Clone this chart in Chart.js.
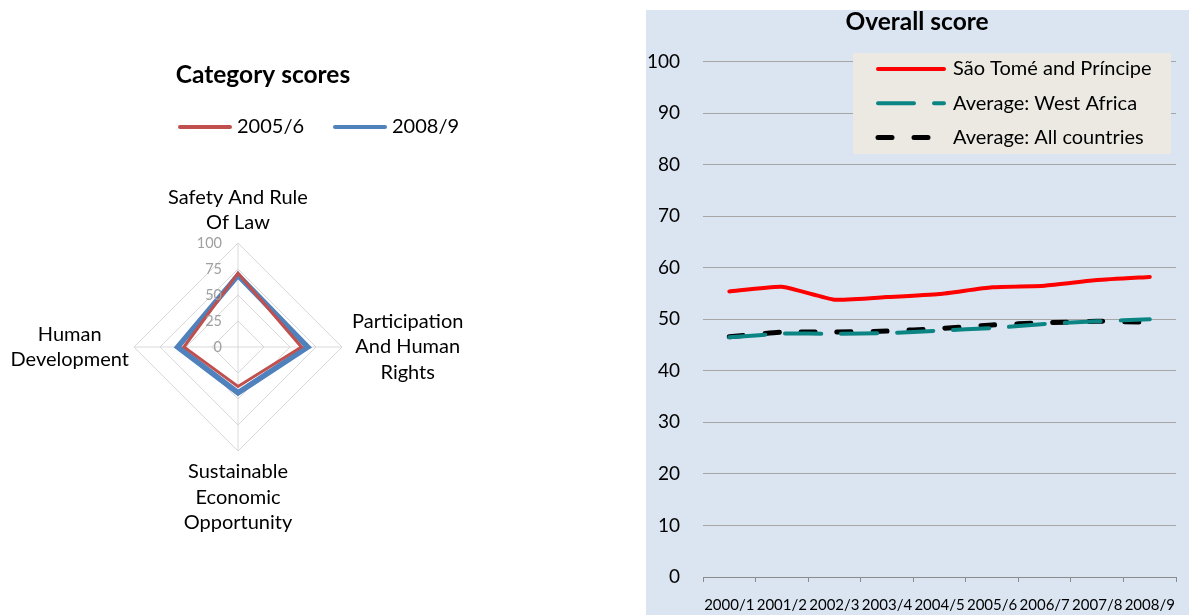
<!DOCTYPE html>
<html>
<head>
<meta charset="utf-8">
<script src="https://cdn.jsdelivr.net/npm/chart.js@4.4.0/dist/chart.umd.min.js"></script>
<style>
  body { margin: 0; background: #fff; width: 1189px; height: 615px; overflow: hidden; position: relative; }
  #leftBox { position: absolute; left: 0; top: 0; width: 480px; height: 615px; }
  #rightBox { position: absolute; left: 646px; top: 10px; width: 543px; height: 605px; background: #dbe5f1; }
</style>
</head>
<body>
<div id="leftBox"><canvas id="radarChart"></canvas></div>
<div id="rightBox"><canvas id="lineChart"></canvas></div>
<script>
// ---------- data ----------
const radarLabels = [['Safety And Rule', 'Of Law'], ['Participation', 'And Human', 'Rights'], ['Sustainable', 'Economic', 'Opportunity'], ['Human', 'Development']];
const radarSeries = ['2005/6', '2008/9'];
const scores2005 = [71, 61, 38, 52];
const scores2008 = [69, 67, 44, 58];
const radarTicks = [0, 25, 50, 75, 100];

const years = ['2000/1', '2001/2', '2002/3', '2003/4', '2004/5', '2005/6', '2006/7', '2007/8', '2008/9'];
const saoTome = [55.4, 56.3, 53.8, 54.3, 54.9, 56.2, 56.5, 57.6, 58.2];
const westAfrica = [46.5, 47.2, 47.2, 47.3, 47.8, 48.3, 49.1, 49.6, 50.0];
const allCountries = [46.6, 47.5, 47.5, 47.7, 48.2, 48.9, 49.3, 49.6, 49.4];
const yTicks = [0, 10, 20, 30, 40, 50, 60, 70, 80, 90, 100];

const FONT = 'Lato, Calibri, "Noto Sans", sans-serif';

// ===================== Category scores (radar) =====================
// title + legend drawn by hand so they can sit where Excel put them
const radarHeader = {
  id: 'radarHeader',
  afterDraw(chart) {
    const ctx = chart.ctx;
    ctx.save();
    ctx.fillStyle = '#000';
    ctx.textBaseline = 'middle';
    ctx.textAlign = 'center';
    ctx.font = 'bold 24.5px ' + FONT;
    ctx.fillText('Category scores', 263, 75);

    ctx.textAlign = 'left';
    ctx.font = '20px ' + FONT;
    const slots = [178, 333];
    chart.data.datasets.forEach((ds, i) => {
      const x = slots[i];
      ctx.strokeStyle = ds.borderColor;
      ctx.lineWidth = 4;
      ctx.lineCap = 'round';
      ctx.beginPath();
      ctx.moveTo(x + 2, 127);
      ctx.lineTo(x + 52, 127);
      ctx.stroke();
      ctx.fillText(ds.label, x + 59, 127);
    });
    ctx.restore();
  }
};

// tick labels left of the vertical axis + centred multi-line category labels, like Excel
const radarText = {
  id: 'radarText',
  afterDraw(chart) {
    const r = chart.scales.r;
    const ctx = chart.ctx;
    ctx.save();
    ctx.fillStyle = '#a0a0a0';
    ctx.font = '14.5px ' + FONT;
    ctx.textAlign = 'right';
    ctx.textBaseline = 'middle';
    radarTicks.forEach(v => {
      const y = r.yCenter - r.getDistanceFromCenterForValue(v);
      ctx.fillText(String(v), r.xCenter - 16, y);
    });

    const lh = 25.5;
    const gaps = [7.5, 10, 8, 5];
    ctx.fillStyle = '#000';
    ctx.font = '20px ' + FONT;
    ctx.textAlign = 'center';
    radarLabels.forEach((lines, i) => {
      const p = r.getPointPosition(i, r.drawingArea + gaps[i]);
      const w = Math.max(...lines.map(t => ctx.measureText(t).width));
      const h = lines.length * lh;
      let cx = p.x, top = p.y - h / 2;
      if (i === 0) top = p.y - h;
      if (i === 2) top = p.y;
      if (i === 1) cx = p.x + w / 2;
      if (i === 3) cx = p.x - w / 2;
      lines.forEach((t, k) => ctx.fillText(t, cx, top + lh * (k + 0.5)));
    });
    ctx.restore();
  }
};

new Chart(document.getElementById('radarChart'), {
  type: 'radar',
  data: {
    labels: radarLabels,
    datasets: [
      { label: radarSeries[0], data: scores2005, borderColor: '#c0504d', borderWidth: 3, fill: false, pointRadius: 0, order: 0 },
      { label: radarSeries[1], data: scores2008, borderColor: '#4f81bd', borderWidth: 5.5, fill: false, pointRadius: 0, order: 1 }
    ]
  },
  options: {
    responsive: true,
    maintainAspectRatio: false,
    animation: false,
    events: [],
    layout: { padding: { left: 134, right: 138, top: 243, bottom: 164 } },
    plugins: { legend: { display: false }, title: { display: false }, tooltip: { enabled: false } },
    elements: { line: { tension: 0 } },
    scales: {
      r: {
        min: 0,
        max: 100,
        ticks: { stepSize: 25, display: false },
        grid: { color: '#d9d9d9', lineWidth: 1 },
        angleLines: { color: '#d9d9d9', lineWidth: 1 },
        pointLabels: { display: false }
      }
    }
  },
  plugins: [radarHeader, radarText]
});

// ===================== Overall score (line) =====================
const boxLegend = {
  id: 'boxLegend',
  afterDatasetsDraw(chart) {
    const ctx = chart.ctx;
    ctx.save();
    ctx.fillStyle = '#ebe9e1';
    ctx.fillRect(207, 43, 318, 101);
    ctx.font = '20px ' + FONT;
    ctx.textBaseline = 'middle';
    ctx.textAlign = 'left';
    chart.data.datasets.forEach((ds, i) => {
      const y = 59 + 34.2 * i;
      ctx.strokeStyle = ds.borderColor;
      ctx.lineWidth = ds.borderWidth;
      ctx.lineCap = 'round';
      ctx.setLineDash(ds.borderDash || []);
      ctx.beginPath();
      ctx.moveTo(232, y);
      ctx.lineTo(298, y);
      ctx.stroke();
      ctx.setLineDash([]);
      ctx.fillStyle = '#000';
      ctx.fillText(ds.label, 307, y);
    });
    ctx.restore();
  }
};

new Chart(document.getElementById('lineChart'), {
  type: 'line',
  data: {
    labels: years,
    datasets: [
      { label: 'São Tomé and Príncipe', data: saoTome, borderColor: '#ff0000', borderWidth: 4, borderCapStyle: 'round', pointRadius: 0, tension: 0.15 },
      { label: 'Average: West Africa', data: westAfrica, borderColor: '#0b8484', borderWidth: 4, borderDash: [36, 20], borderCapStyle: 'round', pointRadius: 0, tension: 0.15 },
      { label: 'Average: All countries', data: allCountries, borderColor: '#000000', borderWidth: 5, borderDash: [14, 22], borderCapStyle: 'round', pointRadius: 0, tension: 0.15 }
    ]
  },
  options: {
    responsive: true,
    maintainAspectRatio: false,
    animation: false,
    events: [],
    layout: { padding: { right: 1 } },
    plugins: {
      legend: { display: false },
      tooltip: { enabled: false },
      title: {
        display: true,
        text: 'Overall score',
        color: '#000',
        font: { family: FONT, size: 24.5, weight: 'bold', lineHeight: 1 },
        padding: { top: 0, bottom: 27 }
      }
    },
    scales: {
      x: {
        offset: true,
        grid: { offset: true, drawOnChartArea: false, tickLength: 5, color: '#8c8c8c' },
        border: { color: '#8c8c8c' },
        ticks: { color: '#000', font: { family: FONT, size: 15 }, padding: 14, maxRotation: 0, autoSkip: false },
        afterFit: s => { s.height = 38; }
      },
      y: {
        min: 0,
        max: 100,
        afterBuildTicks: s => { s.ticks = yTicks.map(v => ({ value: v })); },
        grid: { color: '#a6a6a6', drawTicks: false },
        border: { display: false },
        ticks: { color: '#000', font: { family: FONT, size: 19 }, padding: 23 },
        afterFit: s => { s.width = 57; }
      }
    }
  },
  plugins: [boxLegend]
});
</script>
</body>
</html>
